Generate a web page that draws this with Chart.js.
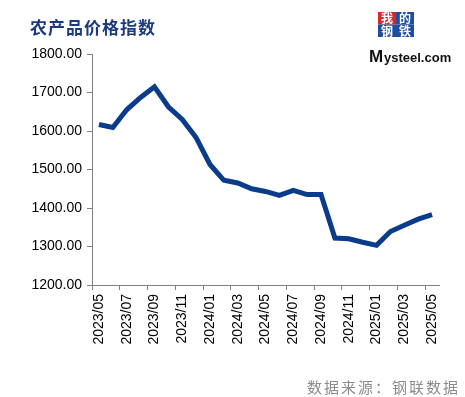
<!DOCTYPE html>
<html>
<head>
<meta charset="utf-8">
<script src="https://cdn.jsdelivr.net/npm/chart.js@4"></script>
<style>
  html, body { margin: 0; padding: 0; background: #fff; }
  #wrap { width: 465px; height: 397px; position: relative; }
</style>
</head>
<body>
<div id="wrap"><canvas id="priceChart" width="465" height="397"></canvas></div>
<script>
// months shown on the x axis (monthly data)
const months = ['2023/05','2023/06','2023/07','2023/08','2023/09','2023/10','2023/11','2023/12',
  '2024/01','2024/02','2024/03','2024/04','2024/05','2024/06','2024/07','2024/08','2024/09',
  '2024/10','2024/11','2024/12','2025/01','2025/02','2025/03','2025/04','2025/05'];

// 农产品价格指数 values
const indexValues = [1617, 1609, 1655, 1687, 1715, 1663, 1630, 1583, 1513, 1472, 1465, 1450, 1443,
  1433, 1446, 1435, 1435, 1322, 1320, 1311, 1303, 1339, 1355, 1371, 1383];

const yMin = 1200;
const yMax = 1800;
const yStep = 100;

const titleText = '农产品价格指数';
const sourceText = '数据来源：钢联数据';

// draws title, source note and logo
const decorPlugin = {
  id: 'decor',
  afterDraw(chart) {
    const ctx = chart.ctx;
    ctx.save();

    // title
    ctx.font = 'bold 17px "Noto Sans CJK SC"';
    ctx.fillStyle = '#1b3a80';
    ctx.textAlign = 'left';
    ctx.textBaseline = 'middle';
    ctx.letterSpacing = '1px';
    ctx.fillText(titleText, 30, 28);

    // source
    ctx.font = '15px "Noto Sans CJK SC"';
    ctx.fillStyle = '#8c8c8c';
    ctx.textAlign = 'right';
    ctx.letterSpacing = '2px';
    ctx.fillText(sourceText, 460, 387);
    ctx.letterSpacing = '0px';

    // logo blocks
    const cells = [
      {t: '我', x: 378, y: 12, bg: '#d9272e'},
      {t: '的', x: 396, y: 12, bg: '#1f4e9c'},
      {t: '钢', x: 378, y: 24.5, bg: '#1f4e9c'},
      {t: '铁', x: 396, y: 24.5, bg: '#1f4e9c'}
    ];
    ctx.font = 'bold 12px "Noto Sans CJK SC"';
    ctx.textAlign = 'center';
    cells.forEach(c => {
      ctx.fillStyle = c.bg;
      ctx.fillRect(c.x, c.y, 18, 12.5);
      ctx.fillStyle = '#fff';
      ctx.fillText(c.t, c.x + 9, c.y + 6.5);
    });

    ctx.fillStyle = '#111';
    ctx.textAlign = 'left';
    ctx.font = 'bold 17px "Liberation Sans"';
    ctx.fillText('M', 369, 57);
    ctx.font = 'bold 13px "Liberation Sans"';
    ctx.fillText('ysteel.com', 384, 58);

    ctx.restore();
  }
};

const ctx = document.getElementById('priceChart');

new Chart(ctx, {
  type: 'line',
  data: {
    labels: months,
    datasets: [{
      label: titleText,
      data: indexValues,
      borderColor: '#0b3c8c',
      borderWidth: 5,
      pointRadius: 0,
      tension: 0,
      fill: false
    }]
  },
  options: {
    responsive: false,
    animation: false,
    layout: { padding: { top: 54, right: 26, bottom: 0, left: 0 } },
    plugins: {
      legend: { display: false },
      title: { display: false },
      tooltip: { enabled: false }
    },
    scales: {
      x: {
        type: 'category',
        offset: true,
        afterFit: s => { s.height = 112; },
        grid: {
          offset: true,
          drawOnChartArea: false,
          tickLength: 5,
          tickColor: c => (c.index % 2 === 0 ? '#808080' : 'rgba(0,0,0,0)')
        },
        border: { color: '#808080', width: 1 },
        ticks: {
          autoSkip: false,
          maxRotation: 90,
          minRotation: 90,
          padding: 4,
          color: '#000',
          font: { family: '"Liberation Sans"', size: 14 },
          callback: function (v, i) { return i % 2 === 0 ? this.getLabelForValue(v) : ''; }
        }
      },
      y: {
        min: yMin,
        max: yMax,
        afterFit: s => { s.width = 92; },
        grid: { drawOnChartArea: false, tickLength: 5, tickColor: '#808080' },
        border: { color: '#808080', width: 1 },
        ticks: {
          stepSize: yStep,
          padding: 5,
          color: '#000',
          font: { family: '"Liberation Sans"', size: 14 },
          callback: v => v.toFixed(2)
        }
      }
    }
  },
  plugins: [decorPlugin]
});
</script>
</body>
</html>
